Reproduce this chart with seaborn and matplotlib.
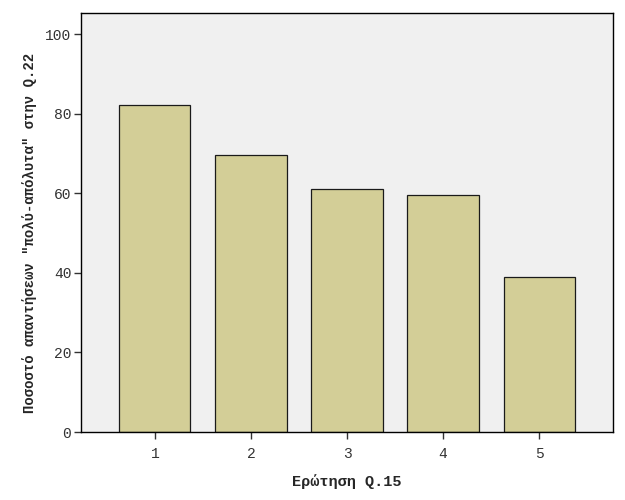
import matplotlib
matplotlib.use("Agg")
import matplotlib.pyplot as plt
import seaborn as sns
import pandas as pd

questions = ["1", "2", "3", "4", "5"]
percent = [82.3, 69.6, 61.0, 59.5, 38.9]

sns.set_style("ticks")
plt.rcParams['font.family'] = ['Liberation Mono', 'DejaVu Sans Mono']

frame = pd.DataFrame({'question': questions, 'percent': percent})

fig = plt.figure(figsize=(6.25, 5), dpi=100)
ax = fig.add_axes([81 / 625, 1 - 432 / 500, (613 - 81) / 625, (432 - 13) / 500])
ax.set_facecolor('#F0F0F0')

sns.barplot(x='question', y='percent', data=frame, color='#D3CE97',
            edgecolor='#1a1a1a', linewidth=0.9, width=0.74, saturation=1, ax=ax)

ax.set_xlim(-0.77, 4.77)
ax.set_ylim(0, 105.3)
ax.set_yticks([0, 20, 40, 60, 80, 100])
for s in ax.spines.values():
    s.set_color('black')
    s.set_linewidth(1)
ax.tick_params(direction='out', length=5, width=1, colors='#333333', labelsize=10.5)
ax.tick_params(axis='y', pad=2)
ax.tick_params(axis='x', pad=6)
ax.set_xlabel('Ερώτηση Q.15', fontsize=11, fontweight='bold', labelpad=9)
ax.set_ylabel('Ποσοστό απαντήσεων "πολύ-απόλυτα" στην Q.22', fontsize=10,
              fontweight='bold', labelpad=5)
ax.yaxis.set_label_coords(-0.083, 0.475)

fig.savefig('out.png', dpi=100)
